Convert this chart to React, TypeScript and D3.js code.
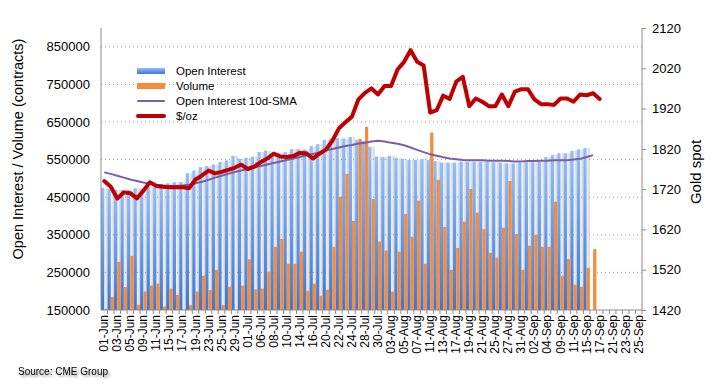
import * as d3 from "d3"
import { useEffect, useRef } from "react"

// trading days shown on the category axis
const DATES = [
  "01-Jun", "02-Jun", "03-Jun", "04-Jun", "05-Jun", "08-Jun", "09-Jun", "10-Jun", "11-Jun", "12-Jun",
  "15-Jun", "16-Jun", "17-Jun", "18-Jun", "19-Jun", "22-Jun", "23-Jun", "24-Jun", "25-Jun", "26-Jun",
  "29-Jun", "30-Jun", "01-Jul", "02-Jul", "06-Jul", "07-Jul", "08-Jul", "09-Jul", "10-Jul", "13-Jul",
  "14-Jul", "15-Jul", "16-Jul", "17-Jul", "20-Jul", "21-Jul", "22-Jul", "23-Jul", "24-Jul", "27-Jul",
  "28-Jul", "29-Jul", "30-Jul", "31-Jul", "03-Aug", "04-Aug", "05-Aug", "06-Aug", "07-Aug", "10-Aug",
  "11-Aug", "12-Aug", "13-Aug", "14-Aug", "17-Aug", "18-Aug", "19-Aug", "20-Aug", "21-Aug", "24-Aug",
  "25-Aug", "26-Aug", "27-Aug", "28-Aug", "31-Aug", "01-Sep", "02-Sep", "03-Sep", "04-Sep", "08-Sep",
  "09-Sep", "10-Sep", "11-Sep", "14-Sep", "15-Sep", "16-Sep", "17-Sep", "18-Sep", "21-Sep", "22-Sep",
  "23-Sep", "24-Sep", "25-Sep",
]

const OPEN_INTEREST = [
  475000, 472000, 469000, 469000, 469000, 474000, 471000, 477000, 477000, 485000,
  487000, 490000, 490000, 514000, 521000, 530000, 533000, 537000, 544000, 548000,
  560000, 552000, 555000, 558000, 570000, 574000, 564000, 568000, 570000, 578000,
  578000, 577000, 586000, 591000, 602000, 606000, 607000, 606000, 610000, 602000,
  600000, 584000, 558000, 557000, 560000, 555000, 552000, 549000, 549000, 552000,
  549000, 546000, 542000, 542000, 542000, 545000, 544000, 544000, 544000, 544000,
  543000, 542000, 540000, 540000, 541000, 543000, 543000, 545000, 557000, 562000,
  567000, 567000, 573000, 577000, 581000,
]

const VOLUME = [
  153000, 185000, 278000, 211000, 294000, 164000, 199000, 215000, 220000, 159000,
  207000, 190000, null, 163000, 199000, 241000, 203000, 257000, 163000, 212000,
  null, 215000, 285000, 205000, 207000, 252000, 318000, 339000, 273000, 273000,
  305000, 201000, 220000, 188000, 204000, 318000, 451000, 512000, 387000, 605000,
  637000, 445000, 332000, 308000, 199000, 305000, 406000, 345000, 441000, 273000,
  622000, 496000, 371000, 257000, 315000, 385000, 472000, 409000, 365000, 302000,
  289000, 369000, 493000, 352000, 257000, 321000, 350000, 318000, 318000, 438000,
  241000, 286000, 217000, 212000, 262000, 312000,
]

const OI_SMA = [
  516000, 512000, 507000, 502000, 497000, 493000, 489000, 486000, 483000, 481000,
  480000, 480000, 481000, 483000, 487000, 491000, 496000, 502000, 507000, 512000,
  517000, 521000, 525000, 529000, 533000, 537000, 541000, 545000, 549000, 553000,
  557000, 561000, 565000, 569000, 574000, 578000, 582000, 586000, 589000, 593000,
  595000, 598000, 600000, 598000, 595000, 592000, 588000, 582000, 576000, 570000,
  564000, 560000, 556000, 553000, 551000, 549000, 548000, 548000, 548000, 547000,
  547000, 547000, 546000, 545000, 545000, 546000, 546000, 547000, 547000, 548000,
  548000, 548000, 550000, 552000, 557000, 562000,
]

const GOLD = [
  1740, 1726, 1697, 1712, 1710, 1697, 1716, 1737, 1728, 1726,
  1725, 1725, 1725, 1722, 1744, 1754, 1766, 1759, 1763, 1768,
  1773, 1781, 1770, 1776, 1787, 1796, 1808, 1801, 1800, 1802,
  1810, 1809, 1796, 1808, 1818, 1840, 1871, 1886, 1900, 1943,
  1959, 1970, 1955, 1976, 1976, 2017, 2036, 2065, 2036, 2027,
  1910, 1916, 1952, 1944, 1987, 1999, 1926, 1945, 1937, 1926,
  1926, 1955, 1926, 1962, 1968, 1968, 1943, 1931, 1931, 1929,
  1945, 1945, 1937, 1955, 1953, 1958, 1944,
]

const LEFT_TICKS = [150000, 250000, 350000, 450000, 550000, 650000, 750000, 850000]
const RIGHT_TICKS = [1420, 1520, 1620, 1720, 1820, 1920, 2020, 2120]

const LEGEND = [
  { label: "Open Interest", kind: "oi" },
  { label: "Volume", kind: "vol" },
  { label: "Open Interest 10d-SMA", kind: "sma" },
  { label: "$/oz", kind: "gold" },
]

const WIDTH = 718
const HEIGHT = 389
const FONT = "'Liberation Sans', Arial, sans-serif"
const ORANGE = "#f68b3c"
const PURPLE = "#7b5ea7"
const RED = "#c00000"
const AXIS = "#8c8c8c"

const App = () => {
  const svgRef = useRef<SVGSVGElement>(null)

  useEffect(() => {
    if (!svgRef.current) return
    d3.select(svgRef.current).selectAll("*").remove()

    const MARGIN = { top: 28, left: 101, right: 642, bottom: 310 }
    const svg = d3.select(svgRef.current).attr("width", WIDTH).attr("height", HEIGHT)

    const defs = svg.append("defs")
    const blue = defs.append("linearGradient").attr("id", "oiGrad").attr("x1", 0).attr("x2", 0).attr("y1", 0).attr("y2", 1)
    blue.append("stop").attr("offset", "0%").attr("stop-color", "#94bef8")
    blue.append("stop").attr("offset", "100%").attr("stop-color", "#3b77d3")
    const shade = defs.append("linearGradient").attr("id", "shadeGrad").attr("x1", 0).attr("x2", 1).attr("y1", 0).attr("y2", 0)
    shade.append("stop").attr("offset", "0%").attr("stop-color", "#f6f6f6")
    shade.append("stop").attr("offset", "100%").attr("stop-color", "#d4d4d4")
    const blur = defs.append("filter").attr("id", "txtShadow").attr("x", "-10%").attr("y", "-50%").attr("width", "130%").attr("height", "220%")
    blur.append("feGaussianBlur").attr("in", "SourceAlpha").attr("stdDeviation", 1.2).attr("result", "b")
    blur.append("feOffset").attr("in", "b").attr("dx", 1.5).attr("dy", 2).attr("result", "o")
    blur.append("feComponentTransfer").attr("in", "o").attr("result", "s")
      .append("feFuncA").attr("type", "linear").attr("slope", 0.45)
    const merge = blur.append("feMerge")
    merge.append("feMergeNode").attr("in", "s")
    merge.append("feMergeNode").attr("in", "SourceGraphic")

    const x = d3.scaleBand<string>().domain(DATES).range([MARGIN.left, MARGIN.right]).padding(0)
    const bw = x.bandwidth()
    const half = bw / 2
    const yLeft = d3.scaleLinear().domain([150000, 900000]).range([MARGIN.bottom, MARGIN.top])
    const yRight = d3.scaleLinear().domain([1420, 2120]).range([MARGIN.bottom, MARGIN.top])

    // shadow behind the open interest bars
    svg.append("g")
      .selectAll("rect")
      .data(OPEN_INTEREST)
      .join("rect")
      .attr("x", (_, i) => x(DATES[i])! + half)
      .attr("y", (d) => yLeft(d))
      .attr("width", half)
      .attr("height", (d) => yLeft(150000) - yLeft(d))
      .attr("fill", "url(#shadeGrad)")

    // dotted gridlines
    svg.append("g")
      .selectAll("line")
      .data(LEFT_TICKS.slice(1))
      .join("line")
      .attr("x1", MARGIN.left)
      .attr("x2", MARGIN.right)
      .attr("y1", (d) => yLeft(d))
      .attr("y2", (d) => yLeft(d))
      .attr("stroke", "#9a9a9a")
      .attr("stroke-width", 1)
      .style("stroke-dasharray", "1,3")

    svg.append("g")
      .selectAll("rect")
      .data(OPEN_INTEREST)
      .join("rect")
      .attr("x", (_, i) => x(DATES[i])!)
      .attr("y", (d) => yLeft(d))
      .attr("width", half)
      .attr("height", (d) => yLeft(150000) - yLeft(d))
      .attr("fill", "url(#oiGrad)")

    svg.append("g")
      .selectAll("rect")
      .data(VOLUME.map((v, i) => ({ v, i })).filter((d) => d.v != null))
      .join("rect")
      .attr("x", (d) => x(DATES[d.i])! + half)
      .attr("y", (d) => yLeft(d.v as number))
      .attr("width", half)
      .attr("height", (d) => yLeft(150000) - yLeft(d.v as number))
      .attr("fill", ORANGE)

    svg.append("path")
      .datum(OI_SMA)
      .attr("fill", "none")
      .attr("stroke", PURPLE)
      .attr("stroke-width", 2)
      .attr("stroke-linejoin", "round")
      .attr("d", d3.line<number>().x((_, i) => x(DATES[i])! + half).y((d) => yLeft(d)))

    svg.append("path")
      .datum(GOLD)
      .attr("fill", "none")
      .attr("stroke", RED)
      .attr("stroke-width", 4)
      .attr("stroke-linejoin", "round")
      .attr("stroke-linecap", "round")
      .attr("d", d3.line<number>().x((_, i) => x(DATES[i])! + half).y((d) => yRight(d)))

    // left axis
    const left = svg.append("g")
      .attr("transform", `translate(${MARGIN.left},0)`)
      .call(d3.axisLeft(yLeft).tickValues(LEFT_TICKS).tickSize(0).tickPadding(11).tickFormat((d) => String(d)))
    left.select(".domain").remove()
    left.selectAll("text").attr("font-size", "13px").attr("font-family", FONT).attr("fill", "#000")
    svg.append("line")
      .attr("x1", MARGIN.left).attr("x2", MARGIN.left)
      .attr("y1", MARGIN.top).attr("y2", MARGIN.bottom)
      .attr("stroke", AXIS)

    // right axis
    const right = svg.append("g")
      .attr("transform", `translate(${MARGIN.right},0)`)
      .call(d3.axisRight(yRight).tickValues(RIGHT_TICKS).tickSize(4).tickPadding(6).tickFormat((d) => String(d)))
    right.select(".domain").attr("stroke", AXIS).attr("d", `M0,${MARGIN.top}V${MARGIN.bottom}`)
    right.selectAll(".tick line").attr("stroke", AXIS)
    right.selectAll("text").attr("font-size", "13px").attr("font-family", FONT).attr("fill", "#000")

    // category axis
    svg.append("line")
      .attr("x1", MARGIN.left).attr("x2", MARGIN.right)
      .attr("y1", MARGIN.bottom).attr("y2", MARGIN.bottom)
      .attr("stroke", AXIS)
    svg.append("g")
      .selectAll("line")
      .data(DATES)
      .join("line")
      .attr("x1", (d) => x(d)! + bw)
      .attr("x2", (d) => x(d)! + bw)
      .attr("y1", MARGIN.bottom)
      .attr("y2", MARGIN.bottom + 4)
      .attr("stroke", AXIS)
    svg.append("g")
      .selectAll("text")
      .data(DATES.filter((_, i) => i % 2 === 0))
      .join("text")
      .attr("transform", (d) => `translate(${x(d)! + half + 4},${MARGIN.bottom + 5}) rotate(-90)`)
      .attr("text-anchor", "end")
      .attr("font-size", "12px")
      .attr("font-family", FONT)
      .attr("fill", "#000")
      .text((d) => d)

    // axis titles
    svg.append("text")
      .attr("transform", "translate(23,149) rotate(-90)")
      .attr("text-anchor", "middle")
      .attr("font-size", "14.5px")
      .attr("font-family", FONT)
      .text("Open Interest / Volume (contracts)")
    svg.append("text")
      .attr("transform", "translate(701,172) rotate(-90)")
      .attr("text-anchor", "middle")
      .attr("font-size", "15px")
      .attr("font-family", FONT)
      .text("Gold spot")

    // legend
    const legend = svg.append("g")
    LEGEND.forEach((item, i) => {
      const cy = 71 + i * 15
      if (item.kind === "oi" || item.kind === "vol") {
        legend.append("rect")
          .attr("x", 137).attr("y", cy - 3).attr("width", 28).attr("height", 6)
          .attr("fill", item.kind === "oi" ? "url(#oiGrad)" : ORANGE)
      } else {
        legend.append("line")
          .attr("x1", 138).attr("x2", 164).attr("y1", cy).attr("y2", cy)
          .attr("stroke", item.kind === "sma" ? PURPLE : RED)
          .attr("stroke-width", item.kind === "sma" ? 2 : 4)
          .attr("stroke-linecap", "round")
      }
      legend.append("text")
        .attr("x", 176).attr("y", cy + 4)
        .attr("font-size", "11.5px")
        .attr("font-family", FONT)
        .text(item.label)
    })

    svg.append("text")
      .attr("x", 18).attr("y", 375)
      .attr("font-size", "10px")
      .attr("font-family", FONT)
      .attr("filter", "url(#txtShadow)")
      .text("Source: CME Group")
  }, [])

  return (
    <svg
      ref={svgRef}
      style={{ position: "absolute", left: 0, top: 0, width: WIDTH, height: HEIGHT, display: "block", background: "#fff" }}
    />
  )
}

export default App
